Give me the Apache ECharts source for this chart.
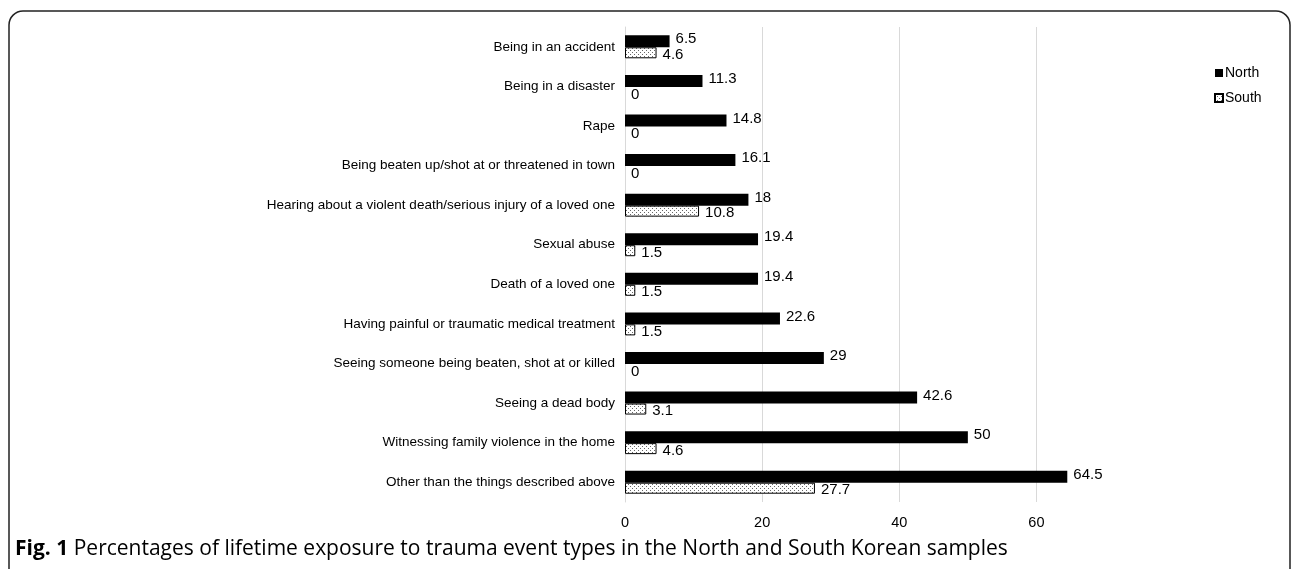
<!DOCTYPE html>
<html><head><meta charset="utf-8">
<script src="https://cdn.jsdelivr.net/npm/echarts@6/dist/echarts.min.js"></script>
<style>html,body{margin:0;padding:0;background:#fff}#c{width:1292px;height:569px}</style>
</head><body><div id="c"></div>
<script>
const categories = [
  "Being in an accident",
  "Being in a disaster",
  "Rape",
  "Being beaten up/shot at or threatened in town",
  "Hearing about a violent death/serious injury of a loved one",
  "Sexual abuse",
  "Death of a loved one",
  "Having painful or traumatic medical treatment",
  "Seeing someone being beaten, shot at or killed",
  "Seeing a dead body",
  "Witnessing family violence in the home",
  "Other than the things described above"
];
const north = [6.5, 11.3, 14.8, 16.1, 18, 19.4, 19.4, 22.6, 29, 42.6, 50, 64.5];
const south = [4.6, 0, 0, 0, 10.8, 1.5, 1.5, 1.5, 0, 3.1, 4.6, 27.7];
const seriesNames = ["North", "South"];
const captionBold = "Fig. 1";
const captionText = " Percentages of lifetime exposure to trauma event types in the North and South Korean samples";

// dotted pattern for South bars
const pc = document.createElement('canvas');
pc.width = 4; pc.height = 4;
const pctx = pc.getContext('2d');
pctx.fillStyle = '#fff'; pctx.fillRect(0,0,4,4);
pctx.fillStyle = '#666';
pctx.fillRect(0,0,1,1); pctx.fillRect(2,2,1,1);
const southFill = {image: pc, repeat: 'repeat'};

const southData = south.map(v => v === 0 ? {value: v, itemStyle: {borderWidth: 0}} : v);

const chart = echarts.init(document.getElementById('c'), null, {renderer: 'canvas'});
const font = 'Liberation Sans, Arial, sans-serif';
chart.setOption({
  animation: false,
  backgroundColor: '#fff',
  textStyle: {fontFamily: font},
  grid: {left: 625, right: 187, top: 27, bottom: 67, containLabel: false},
  legend: {
    orient: 'vertical', left: 1209, top: 61, itemWidth: 8, itemHeight: 8, itemGap: 11,
    textStyle: {fontSize: 14, color: '#000', fontFamily: font, padding: [0,0,0,-3]},
    data: [
      {name: seriesNames[0], icon: 'rect'},
      {name: seriesNames[1], icon: 'rect'}
    ]
  },
  xAxis: {
    type: 'value', min: 0, max: 70, interval: 20,
    axisLine: {show: false}, axisTick: {show: false},
    splitLine: {showMaxLine: false, lineStyle: {color: '#d9d9d9', width: 1}},
    axisLabel: {fontSize: 14.5, color: '#000', margin: 13, showMaxLabel: false,
      formatter: v => (v % 20 === 0 ? String(v) : '')}
  },
  yAxis: {
    type: 'category', data: categories, inverse: true,
    axisLine: {show: true, lineStyle: {color: '#d9d9d9'}},
    axisTick: {show: false},
    axisLabel: {fontSize: 13.5, color: '#000', margin: 10}
  },
  series: [
    {
      name: seriesNames[0], type: 'bar', data: north, barWidth: 12, barGap: '0%',
      itemStyle: {color: '#000'},
      label: {show: true, position: 'right', distance: 6, fontSize: 15, color: '#000', fontFamily: font, offset: [0,-2]}
    },
    {
      name: seriesNames[1], type: 'bar', data: southData, barWidth: 11, barGap: '0%',
      itemStyle: {color: southFill, borderColor: '#000', borderWidth: 1},
      label: {show: true, position: 'right', distance: 6, fontSize: 15, color: '#000', fontFamily: font, offset: [0,2]}
    }
  ],
  graphic: [
    {type: 'rect', shape: {x: 9, y: 11, width: 1281, height: 640, r: 14},
     style: {fill: 'none', stroke: '#222', lineWidth: 1.5}, silent: true},
    {type: 'text', left: 15, top: 539,
     style: {text: '{b|' + captionBold + '}{n|' + captionText + '}',
       rich: {
         b: {fontFamily: 'Open Sans, sans-serif', fontWeight: 'bold', fontSize: 21, fill: '#000'},
         n: {fontFamily: 'Open Sans, sans-serif', fontSize: 21, fill: '#000'}
       }}}
  ]
});
</script></body></html>
